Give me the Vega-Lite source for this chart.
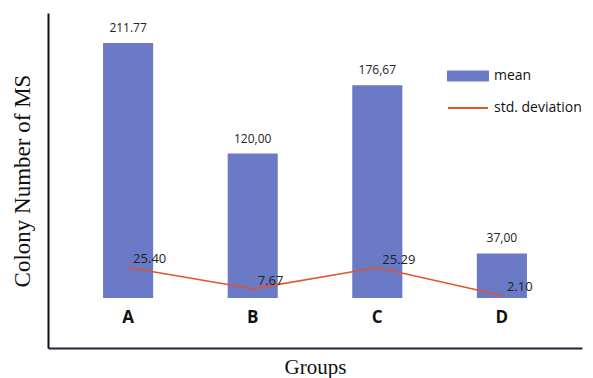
{
  "$schema": "https://vega.github.io/schema/vega-lite/v6.json",
  "width": 534,
  "height": 335,
  "autosize": {"type": "none"},
  "padding": {"left": 48, "top": 13, "right": 11, "bottom": 30},
  "background": "white",
  "config": {"view": {"stroke": null}},
  "data": {
    "values": [
      {"group": "A", "mean": 211.77, "sd": 25.40, "meanLabel": "211.77", "sdLabel": "25.40"},
      {"group": "B", "mean": 120.00, "sd": 7.67, "meanLabel": "120,00", "sdLabel": "7.67"},
      {"group": "C", "mean": 176.67, "sd": 25.29, "meanLabel": "176,67", "sdLabel": "25.29"},
      {"group": "D", "mean": 37.00, "sd": 2.10, "meanLabel": "37,00", "sdLabel": "2.10"}
    ]
  },
  "encoding": {
    "x": {
      "field": "group", "type": "nominal",
      "scale": {"paddingInner": 0.598, "paddingOuter": 0.442},
      "axis": {
        "title": "Groups", "titleFont": "Liberation Serif", "titleFontSize": 21, "titleFontWeight": "normal", "titleColor": "#111",
        "titlePadding": 8,
        "labelAngle": 0, "labelFont": "Open Sans", "labelFontSize": 17, "labelFontWeight": "bold", "labelColor": "#111",
        "labelBaseline": "middle", "labelPadding": -31,
        "ticks": false, "tickSize": 0,
        "domainColor": "#1F2440", "domainWidth": 2
      }
    }
  },
  "layer": [
    {
      "mark": {"type": "bar", "color": "#6A7AC6"},
      "encoding": {
        "y": {
          "field": "mean", "type": "quantitative",
          "scale": {"domain": [-41.5, 236.7], "nice": false, "zero": false},
          "axis": {
            "title": "Colony Number of MS", "titleFont": "Liberation Serif", "titleFontSize": 23, "titleFontWeight": "normal", "titleColor": "#111",
            "titlePadding": 14, "labels": false, "ticks": false, "tickSize": 0, "grid": false,
            "domainColor": "#111", "domainWidth": 2
          }
        },
        "y2": {"datum": 0},
        "color": {
          "datum": "mean", "type": "nominal",
          "scale": {"domain": ["mean", "std. deviation"], "range": ["#6A7AC6", "#E2542B"]},
          "legend": {
            "title": null, "orient": "none", "legendX": 409, "legendY": 52,
            "labelFont": "Open Sans", "labelFontSize": 14, "labelColor": "#111", "labelOffset": 15,
            "symbolSize": 400, "rowPadding": 12,
            "encode": {
              "symbols": {
                "update": {
                  "shape": {"signal": "datum.value === 'mean' ? 'M-2,-0.45H2V0.45H-2Z' : 'M-2,0H2'"},
                  "fill": {"signal": "datum.value === 'mean' ? '#6A7AC6' : 'transparent'"},
                  "stroke": {"signal": "datum.value === 'mean' ? 'transparent' : '#E2542B'"},
                  "strokeWidth": {"value": 2}
                }
              }
            }
          }
        }
      }
    },
    {
      "mark": {"type": "text", "baseline": "bottom", "dy": -8, "font": "Open Sans", "fontSize": 12, "color": "#222"},
      "encoding": {
        "y": {"field": "mean", "type": "quantitative"},
        "text": {"field": "meanLabel"}
      }
    },
    {
      "mark": {"type": "line", "strokeWidth": 1.6},
      "encoding": {
        "y": {"field": "sd", "type": "quantitative"},
        "color": {"datum": "std. deviation", "type": "nominal"}
      }
    },
    {
      "mark": {"type": "text", "align": "left", "baseline": "bottom", "dx": 5, "dy": -1, "font": "Open Sans", "fontSize": 13, "color": "#222"},
      "encoding": {
        "y": {"field": "sd", "type": "quantitative"},
        "text": {"field": "sdLabel"}
      }
    }
  ]
}
